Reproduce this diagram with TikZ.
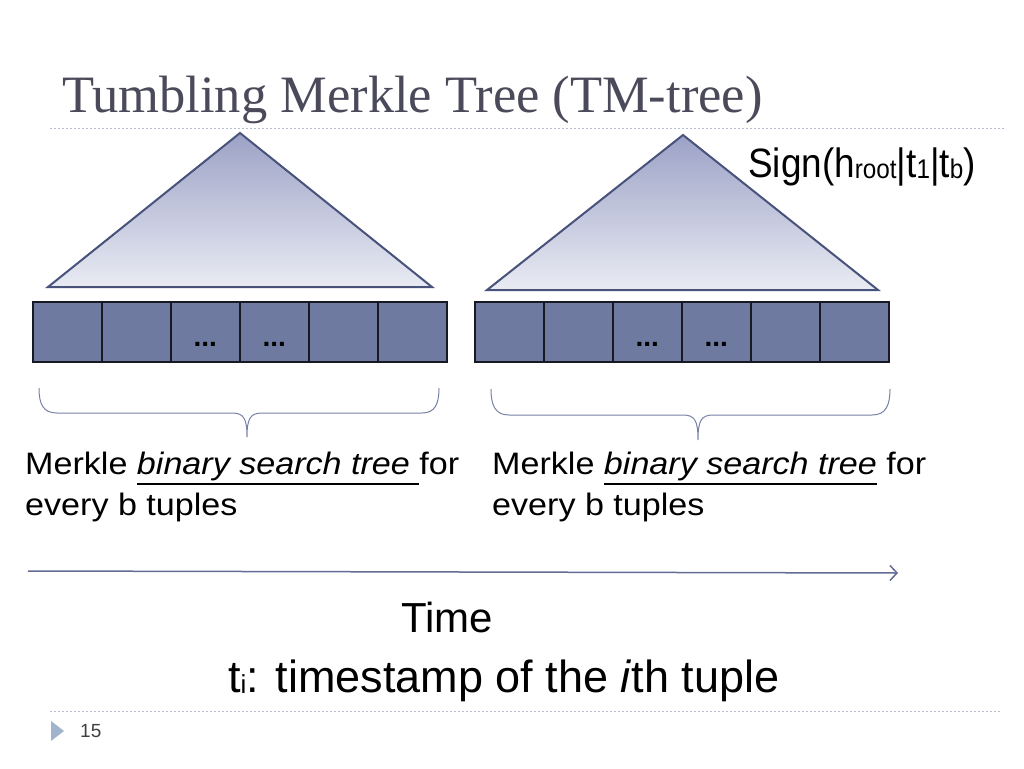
\documentclass[tikz,border=0pt]{standalone}
\usepackage{fontspec}
\setmainfont{Liberation Sans}
\newfontfamily\titlefont{Liberation Serif}
\newfontfamily\narrowfont[FakeStretch=0.9]{Liberation Sans}
\newfontfamily\widefont[FakeStretch=1.1]{Liberation Sans}
\usepackage{tikz}
\usetikzlibrary{shapes.geometric, arrows.meta, calc, positioning}
\definecolor{treeline}{RGB}{72,82,122}
\definecolor{treetop}{RGB}{156,162,198}
\definecolor{treebottom}{RGB}{233,235,243}
\definecolor{cellfill}{RGB}{111,122,160}
\definecolor{cellline}{RGB}{25,25,35}
\definecolor{braceline}{RGB}{120,130,165}
\definecolor{arrowline}{RGB}{100,108,148}
\definecolor{ruleline}{RGB}{180,188,205}
\definecolor{titlegrey}{RGB}{74,74,90}
\definecolor{footblue}{RGB}{160,180,205}
\newcommand{\undertext}[1]{\setbox0\hbox{#1}\rlap{\raisebox{-11pt}{\rule{\wd0}{2pt}}}\box0\relax}
\newcommand{\lowsub}[2]{\raisebox{-1.5pt}{\fontsize{#1}{#1}\selectfont #2}}
\tikzstyle{cell} = [rectangle, draw=cellline, line width=1.5pt, fill=cellfill, minimum width=69pt, minimum height=60pt, inner sep=0pt, anchor=north west]
\tikzstyle{dots} = [inner sep=0pt, font=\fontsize{28}{28}\selectfont\bfseries]
\tikzstyle{tree} = [draw=treeline, line width=2pt, top color=treetop, bottom color=treebottom]
\tikzstyle{brace} = [draw=braceline, line width=1pt]
\tikzstyle{rule} = [draw=ruleline, line width=1pt, dash pattern=on 2pt off 2pt]
\tikzstyle{arrow} = [draw=arrowline, line width=1.5pt, -{Straight Barb[length=7pt,width=15pt]}]
\tikzstyle{body} = [inner sep=0pt, anchor=base west, align=left]

\begin{document}
\begin{tikzpicture}[x=1pt, y=-1pt]
		\path[fill=white, use as bounding box] (0,0) rectangle (1024,768);
		\node (Title) [body, text=titlegrey, font=\titlefont\fontsize{52.5}{60}\selectfont] at (62,112) {Tumbling Merkle Tree (TM-tree)};
		\draw [rule] (50,128) -- (1005,128);
		\draw [rule] (50,711) -- (1000,711);
		% trees
		\coordinate (LApex) at (240,133);
		\coordinate (LBaseL) at (48,287);
		\coordinate (LBaseR) at (432,287);
		\coordinate (RApex) at (683,135);
		\coordinate (RBaseL) at (487,290);
		\coordinate (RBaseR) at (878,290);
		\path [tree] (LApex) -- (LBaseR) -- (LBaseL) -- cycle;
		\path [tree] (RApex) -- (RBaseR) -- (RBaseL) -- cycle;
		\node (Sign) [body, font=\narrowfont\fontsize{41}{48}\selectfont] at (748,177) {Sign(h\lowsub{27}{root}|t\lowsub{27}{1}|t\lowsub{27}{b})};
		% leaf blocks
		\foreach \i in {0,...,5} {
			\node [cell] (L\i) at ({32+69*\i},301) {};
			\node [cell] (R\i) at ({474+69*\i},301) {};
		}
		\node (LDotsA) [dots, above=16pt of L2.south] {...};
		\node (LDotsB) [dots, above=16pt of L3.south] {...};
		\node (RDotsA) [dots, above=16pt of R2.south] {...};
		\node (RDotsB) [dots, above=16pt of R3.south] {...};
		% braces
		\draw [brace] (39,388) .. controls (39,404) and (43,413) .. (57,413) -- (232,413) .. controls (244,413) and (247,419) .. (247,437) .. controls (247,419) and (250,413) .. (262,413) -- (422,413) .. controls (435,413) and (439,404) .. (439,388);
		\draw [brace] (491,389) .. controls (491,405) and (495,415) .. (509,415) -- (683,415) .. controls (695,415) and (698,421) .. (698,440) .. controls (698,421) and (701,415) .. (713,415) -- (872,415) .. controls (886,415) and (890,405) .. (890,389);
		\node (LNote) [body, font=\widefont\fontsize{31}{41}\selectfont] at (25,515) {Merkle \undertext{\textit{binary search tree }}for\\every b tuples};
		\node (RNote) [body, font=\widefont\fontsize{31}{41}\selectfont] at (492,515) {Merkle \undertext{\textit{binary search tree}} for\\every b tuples};
		% time axis
		\coordinate (TimeStart) at (28,571);
		\coordinate (TimeEnd) at (898,573);
		\draw [arrow] (TimeStart) -- (TimeEnd);
		\node (TimeLabel) [body, font=\fontsize{42}{48}\selectfont] at (401,632) {Time};
		\node (Legend) [body, font=\fontsize{45}{52}\selectfont] at (228,692) {t\lowsub{26}{i}: timestamp of the \textit{i}th tuple};
		% footer
		\path [fill=footblue] (51,721) -- (64,731) -- (51,741) -- cycle;
		\node (PageNum) [body, text=black!75, font=\fontsize{19}{22}\selectfont] at (80,737) {15};
		\end{tikzpicture}
\end{document}
